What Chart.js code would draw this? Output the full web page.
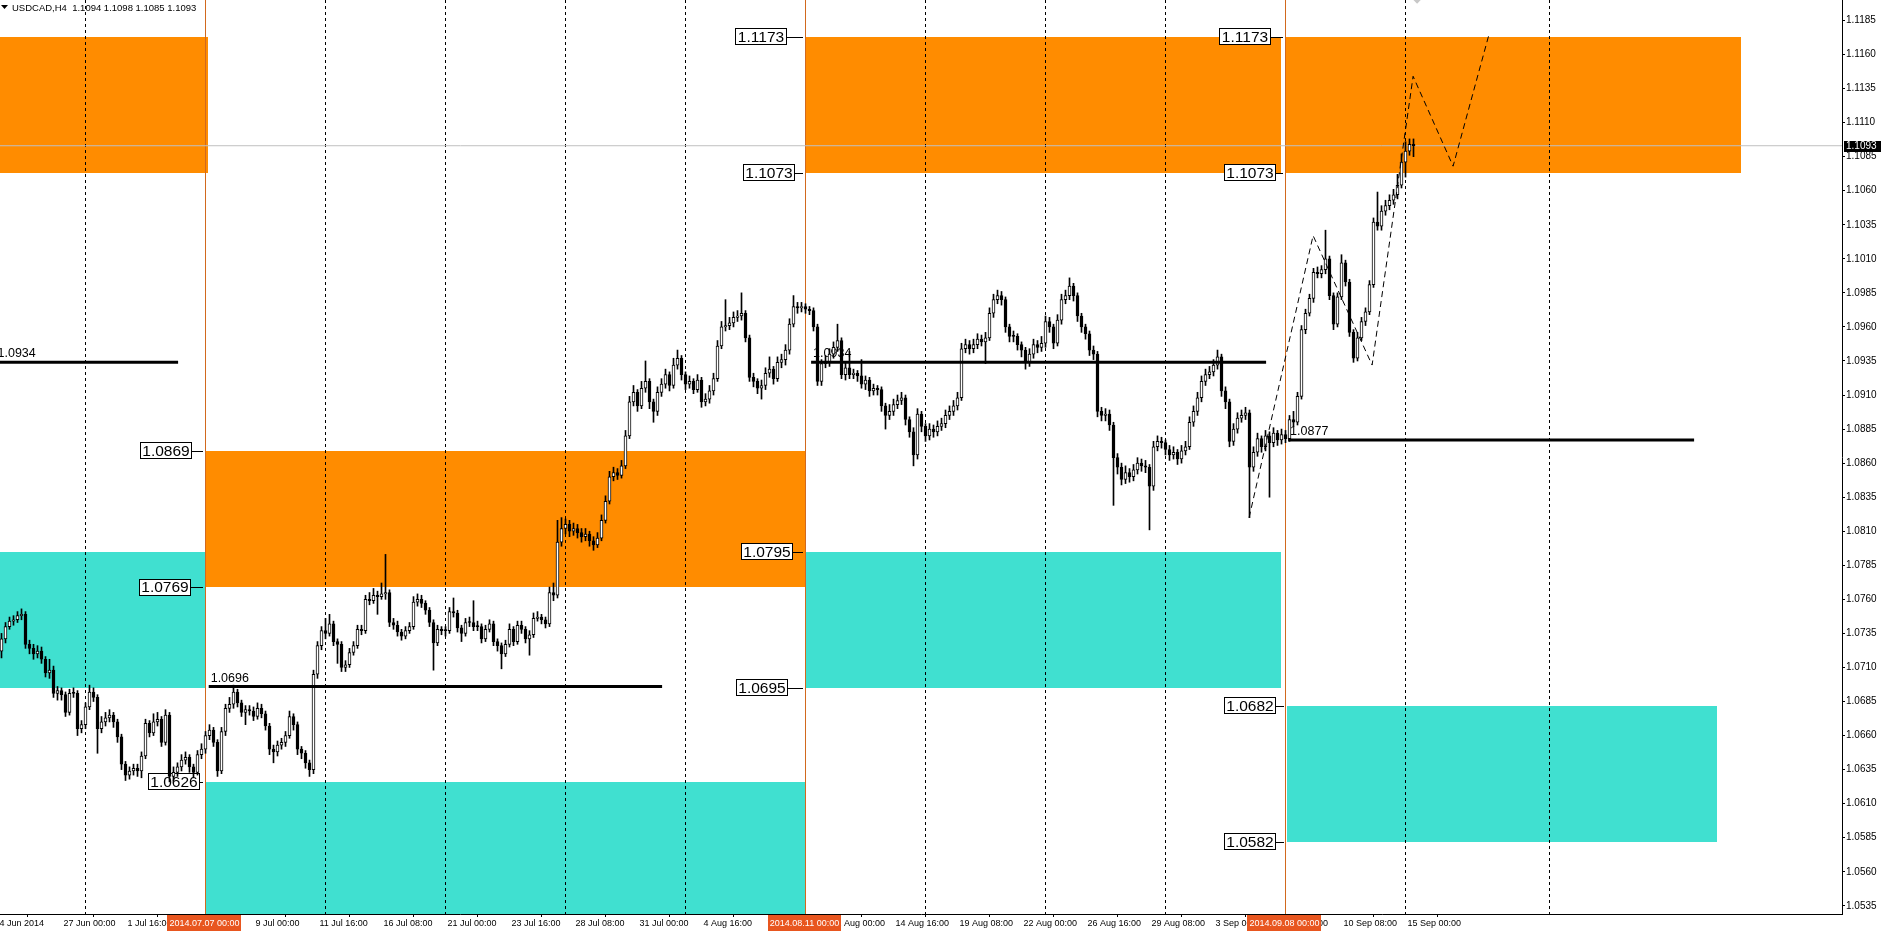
<!DOCTYPE html>
<html><head><meta charset="utf-8">
<script src="https://cdn.jsdelivr.net/npm/chart.js@4/dist/chart.umd.min.js"></script>
<style>html,body{margin:0;padding:0;background:#fff;overflow:hidden}#wrap{width:1884px;height:932px;position:relative}canvas{display:block}</style>
</head><body><div id="wrap"><canvas id="c" width="1884" height="932"></canvas></div>
<script>
// ---------------- DATA ----------------
const symbolTitle = 'USDCAD,H4  1.1094 1.1098 1.1085 1.1093';

// H4 candles, bar index 0 = 24 Jun 2014 12:00 ... 353 = 15 Sep 2014 08:00
const opens = [
1.0722,1.0731,1.0740,1.0744,1.0745,1.0748,1.0749,1.0727,1.0724,1.0720,
1.0722,1.0716,1.0706,1.0708,1.0691,1.0693,1.0690,1.0677,1.0691,1.0691,
1.0665,1.0668,1.0681,1.0692,1.0688,1.0665,1.0670,1.0673,1.0675,1.0670,
1.0659,1.0639,1.0631,1.0634,1.0636,1.0634,1.0645,1.0669,1.0662,1.0670,
1.0672,1.0655,1.0675,1.0630,1.0633,1.0637,1.0642,1.0644,1.0637,1.0633,
1.0646,1.0650,1.0660,1.0664,1.0655,1.0634,1.0663,1.0680,1.0683,1.0692,
1.0684,1.0677,1.0679,1.0678,1.0674,1.0680,1.0676,1.0667,1.0650,1.0648,
1.0653,1.0655,1.0660,1.0674,1.0668,1.0650,1.0647,1.0640,1.0635,1.0705,
1.0726,1.0737,1.0735,1.0742,1.0729,1.0727,1.0710,1.0712,1.0721,1.0726,
1.0738,1.0737,1.0760,1.0759,1.0763,1.0762,1.0764,1.0765,1.0743,1.0741,
1.0736,1.0733,1.0737,1.0740,1.0758,1.0760,1.0757,1.0752,1.0743,1.0728,
1.0738,1.0737,1.0737,1.0751,1.0750,1.0739,1.0735,1.0743,1.0743,1.0740,
1.0740,1.0731,1.0738,1.0742,1.0729,1.0726,1.0720,1.0727,1.0738,1.0729,
1.0741,1.0738,1.0731,1.0734,1.0746,1.0747,1.0745,1.0742,1.0765,1.0763,
1.0802,1.0812,1.0815,1.0810,1.0812,1.0809,1.0806,1.0808,1.0803,1.0800,
1.0805,1.0818,1.0832,1.0850,1.0853,1.0851,1.0858,1.0880,1.0905,1.0912,
1.0902,1.0915,1.0920,1.0905,1.0898,1.0912,1.0918,1.0925,1.0917,1.0932,
1.0937,1.0925,1.0918,1.0920,1.0914,1.0921,1.0905,1.0907,1.0913,1.0922,
1.0946,1.0960,1.0961,1.0963,1.0967,1.0968,1.0970,1.0952,1.0923,1.0920,
1.0915,1.0917,1.0926,1.0929,1.0922,1.0934,1.0936,1.0943,1.0962,1.0975,
1.0974,1.0975,1.0973,1.0972,1.0960,1.0920,1.0933,1.0934,1.0940,1.0945,
1.0950,1.0925,1.0930,1.0925,1.0926,1.0924,1.0918,1.0921,1.0913,1.0915,
1.0914,1.0902,1.0895,1.0898,1.0903,1.0906,1.0908,1.0892,1.0883,1.0866,
1.0896,1.0887,1.0880,1.0885,1.0883,1.0887,1.0889,1.0895,1.0898,1.0902,
1.0908,1.0944,1.0947,1.0944,1.0947,1.0951,1.0949,1.0952,1.0970,1.0980,
1.0983,1.0980,1.0960,1.0953,1.0953,1.0947,1.0943,1.0934,1.0940,1.0947,
1.0945,1.0948,1.0964,1.0960,1.0948,1.0965,1.0980,1.0983,1.0990,1.0983,
1.0968,1.0960,1.0955,1.0943,1.0940,1.0898,1.0895,1.0896,1.0888,1.0864,
1.0857,1.0848,1.0853,1.0850,1.0855,1.0860,1.0858,1.0857,1.0843,1.0872,
1.0876,1.0875,1.0870,1.0866,1.0868,1.0863,1.0869,1.0872,1.0890,1.0898,
1.0908,1.0920,1.0925,1.0927,1.0932,1.0938,1.0913,1.0905,1.0876,1.0885,
1.0893,1.0895,1.0897,1.0857,1.0868,1.0878,1.0872,1.0880,1.0875,1.0882,
1.0877,1.0881,1.0878,1.0892,1.0890,1.0909,1.0958,1.0970,1.0981,1.1000,
1.0999,1.1002,1.1010,1.0983,1.0962,1.0982,1.1007,1.0993,1.0956,1.0937,
1.0952,1.0964,1.0971,1.0991,1.1037,1.1034,1.1045,1.1049,1.1053,1.1057,
1.1064,1.1081,1.1089,1.1094];
const highs = [
1.0735,1.0743,1.0747,1.0748,1.0751,1.0753,1.0751,1.0730,1.0727,1.0726,
1.0725,1.0718,1.0716,1.0711,1.0696,1.0695,1.0692,1.0694,1.0695,1.0693,
1.0671,1.0684,1.0697,1.0695,1.0690,1.0674,1.0677,1.0679,1.0677,1.0672,
1.0661,1.0641,1.0637,1.0639,1.0639,1.0648,1.0672,1.0671,1.0676,1.0677,
1.0674,1.0679,1.0677,1.0637,1.0640,1.0646,1.0648,1.0646,1.0639,1.0649,
1.0654,1.0663,1.0668,1.0666,1.0657,1.0666,1.0683,1.0688,1.0697,1.0694,
1.0686,1.0682,1.0682,1.0681,1.0684,1.0683,1.0678,1.0669,1.0653,1.0656,
1.0658,1.0663,1.0678,1.0676,1.0670,1.0652,1.0649,1.0642,1.0708,1.0729,
1.0740,1.0746,1.0749,1.0744,1.0731,1.0729,1.0715,1.0724,1.0729,1.0741,
1.0741,1.0763,1.0765,1.0768,1.0766,1.0772,1.0793,1.0767,1.0746,1.0744,
1.0738,1.0740,1.0743,1.0762,1.0764,1.0763,1.0759,1.0754,1.0745,1.0741,
1.0740,1.0740,1.0754,1.0761,1.0752,1.0741,1.0746,1.0747,1.0759,1.0744,
1.0742,1.0741,1.0745,1.0744,1.0731,1.0728,1.0730,1.0742,1.0740,1.0744,
1.0744,1.0740,1.0737,1.0750,1.0751,1.0749,1.0747,1.0769,1.0772,1.0818,
1.0820,1.0819,1.0818,1.0816,1.0815,1.0812,1.0812,1.0810,1.0806,1.0809,
1.0822,1.0836,1.0854,1.0857,1.0856,1.0862,1.0884,1.0909,1.0917,1.0914,
1.0920,1.0935,1.0922,1.0907,1.0916,1.0922,1.0929,1.0927,1.0937,1.0943,
1.0939,1.0927,1.0924,1.0922,1.0925,1.0923,1.0911,1.0917,1.0926,1.0950,
1.0964,1.0980,1.0967,1.0971,1.0972,1.0985,1.0972,1.0954,1.0926,1.0922,
1.0921,1.0930,1.0938,1.0931,1.0938,1.0940,1.0947,1.0966,1.0983,1.0978,
1.0978,1.0977,1.0975,1.0974,1.0962,1.0936,1.0939,1.0944,1.0949,1.0962,
1.0952,1.0934,1.0942,1.0929,1.0928,1.0936,1.0924,1.0923,1.0918,1.0917,
1.0916,1.0904,1.0903,1.0907,1.0910,1.0912,1.0910,1.0894,1.0886,1.0900,
1.0898,1.0889,1.0889,1.0888,1.0891,1.0893,1.0899,1.0902,1.0906,1.0912,
1.0948,1.0951,1.0950,1.0951,1.0955,1.0954,1.0956,1.0974,1.0984,1.0987,
1.0986,1.0982,1.0962,1.0957,1.0955,1.0949,1.0945,1.0944,1.0951,1.0950,
1.0953,1.0968,1.0967,1.0962,1.0969,1.0984,1.0987,1.0996,1.0992,1.0985,
1.0970,1.0962,1.0957,1.0946,1.0942,1.0901,1.0900,1.0899,1.0890,1.0867,
1.0860,1.0858,1.0856,1.0859,1.0864,1.0863,1.0862,1.0859,1.0876,1.0880,
1.0879,1.0877,1.0873,1.0872,1.0870,1.0873,1.0876,1.0894,1.0902,1.0912,
1.0924,1.0929,1.0931,1.0936,1.0943,1.0940,1.0916,1.0907,1.0889,1.0897,
1.0899,1.0901,1.0899,1.0872,1.0882,1.0880,1.0884,1.0883,1.0886,1.0884,
1.0885,1.0884,1.0895,1.0898,1.0912,1.0961,1.0973,1.0984,1.1003,1.1004,
1.1005,1.1031,1.1012,1.0985,1.0985,1.1013,1.1009,1.0995,1.0958,1.0956,
1.0967,1.0974,1.0994,1.1040,1.1059,1.1049,1.1053,1.1057,1.1061,1.1072,
1.1087,1.1096,1.1098,1.1098];
const lows = [
1.0717,1.0728,1.0738,1.0741,1.0743,1.0745,1.0724,1.0720,1.0716,1.0717,
1.0713,1.0703,1.0702,1.0688,1.0686,1.0686,1.0674,1.0675,1.0688,1.0660,
1.0662,1.0665,1.0679,1.0685,1.0647,1.0662,1.0667,1.0670,1.0666,1.0655,
1.0635,1.0627,1.0628,1.0631,1.0630,1.0629,1.0643,1.0659,1.0660,1.0667,
1.0652,1.0653,1.0626,1.0627,1.0630,1.0634,1.0639,1.0633,1.0629,1.0631,
1.0643,1.0647,1.0657,1.0652,1.0630,1.0632,1.0660,1.0677,1.0680,1.0681,
1.0674,1.0668,1.0675,1.0671,1.0672,1.0673,1.0664,1.0646,1.0640,1.0645,
1.0650,1.0652,1.0658,1.0664,1.0646,1.0643,1.0636,1.0630,1.0632,1.0702,
1.0723,1.0731,1.0733,1.0726,1.0713,1.0707,1.0707,1.0710,1.0719,1.0724,
1.0734,1.0735,1.0756,1.0757,1.0749,1.0760,1.0760,1.0740,1.0738,1.0733,
1.0730,1.0731,1.0735,1.0738,1.0755,1.0754,1.0749,1.0740,1.0708,1.0726,
1.0734,1.0733,1.0735,1.0747,1.0736,1.0729,1.0733,1.0740,1.0737,1.0737,
1.0728,1.0729,1.0736,1.0726,1.0722,1.0709,1.0718,1.0725,1.0726,1.0727,
1.0735,1.0728,1.0719,1.0732,1.0744,1.0742,1.0739,1.0740,1.0759,1.0761,
1.0799,1.0808,1.0806,1.0807,1.0805,1.0802,1.0803,1.0799,1.0796,1.0798,
1.0803,1.0816,1.0830,1.0847,1.0848,1.0849,1.0856,1.0878,1.0902,1.0898,
1.0900,1.0912,1.0900,1.0890,1.0895,1.0909,1.0915,1.0913,1.0915,1.0929,
1.0921,1.0914,1.0915,1.0911,1.0912,1.0901,1.0902,1.0904,1.0910,1.0920,
1.0944,1.0957,1.0958,1.0960,1.0964,1.0965,1.0949,1.0920,1.0916,1.0911,
1.0907,1.0914,1.0923,1.0918,1.0920,1.0930,1.0932,1.0940,1.0960,1.0970,
1.0971,1.0970,1.0969,1.0957,1.0917,1.0917,1.0930,1.0931,1.0937,1.0942,
1.0922,1.0921,1.0922,1.0922,1.0920,1.0915,1.0914,1.0909,1.0910,1.0910,
1.0898,1.0885,1.0892,1.0895,1.0900,1.0903,1.0888,1.0879,1.0858,1.0863,
1.0883,1.0876,1.0877,1.0879,1.0880,1.0884,1.0886,1.0892,1.0895,1.0899,
1.0906,1.0941,1.0940,1.0941,1.0944,1.0946,1.0933,1.0950,1.0967,1.0977,
1.0976,1.0956,1.0949,1.0949,1.0943,1.0938,1.0929,1.0931,1.0937,1.0941,
1.0942,1.0945,1.0956,1.0944,1.0946,1.0962,1.0977,1.0980,1.0979,1.0964,
1.0956,1.0951,1.0939,1.0936,1.0894,1.0891,1.0891,1.0884,1.0829,1.0852,
1.0844,1.0845,1.0846,1.0847,1.0852,1.0854,1.0853,1.0811,1.0840,1.0869,
1.0871,1.0866,1.0862,1.0863,1.0859,1.0860,1.0866,1.0870,1.0887,1.0895,
1.0905,1.0917,1.0922,1.0924,1.0929,1.0909,1.0900,1.0872,1.0873,1.0882,
1.0890,1.0892,1.0820,1.0854,1.0865,1.0868,1.0869,1.0835,1.0872,1.0873,
1.0874,1.0875,1.0876,1.0887,1.0888,1.0907,1.0955,1.0968,1.0978,1.0996,
1.0996,1.0999,1.0980,1.0958,1.0960,1.0980,1.0990,1.0953,1.0934,1.0935,
1.0950,1.0961,1.0969,1.0989,1.1031,1.1031,1.1042,1.1046,1.1050,1.1054,
1.1062,1.1070,1.1086,1.1085];
const closes = [
1.0731,1.0740,1.0744,1.0745,1.0748,1.0749,1.0727,1.0724,1.0720,1.0722,
1.0716,1.0706,1.0708,1.0691,1.0693,1.0690,1.0677,1.0691,1.0691,1.0665,
1.0668,1.0681,1.0692,1.0688,1.0665,1.0670,1.0673,1.0675,1.0670,1.0659,
1.0639,1.0631,1.0634,1.0636,1.0634,1.0645,1.0669,1.0662,1.0670,1.0672,
1.0655,1.0675,1.0630,1.0633,1.0637,1.0642,1.0644,1.0637,1.0633,1.0646,
1.0650,1.0660,1.0664,1.0655,1.0634,1.0663,1.0680,1.0683,1.0692,1.0684,
1.0677,1.0679,1.0678,1.0674,1.0680,1.0676,1.0667,1.0650,1.0648,1.0653,
1.0655,1.0660,1.0674,1.0668,1.0650,1.0647,1.0640,1.0635,1.0705,1.0726,
1.0737,1.0735,1.0742,1.0729,1.0727,1.0710,1.0712,1.0721,1.0726,1.0738,
1.0737,1.0760,1.0759,1.0763,1.0762,1.0764,1.0765,1.0743,1.0741,1.0736,
1.0733,1.0737,1.0740,1.0758,1.0760,1.0757,1.0752,1.0743,1.0728,1.0738,
1.0737,1.0737,1.0751,1.0750,1.0739,1.0735,1.0743,1.0743,1.0740,1.0740,
1.0731,1.0738,1.0742,1.0729,1.0726,1.0720,1.0727,1.0738,1.0729,1.0741,
1.0738,1.0731,1.0734,1.0746,1.0747,1.0745,1.0742,1.0765,1.0763,1.0802,
1.0812,1.0815,1.0810,1.0812,1.0809,1.0806,1.0808,1.0803,1.0800,1.0805,
1.0818,1.0832,1.0850,1.0853,1.0851,1.0858,1.0880,1.0905,1.0912,1.0902,
1.0915,1.0920,1.0905,1.0898,1.0912,1.0918,1.0925,1.0917,1.0932,1.0937,
1.0925,1.0918,1.0920,1.0914,1.0921,1.0905,1.0907,1.0913,1.0922,1.0946,
1.0960,1.0961,1.0963,1.0967,1.0968,1.0970,1.0952,1.0923,1.0920,1.0915,
1.0917,1.0926,1.0929,1.0922,1.0934,1.0936,1.0943,1.0962,1.0975,1.0974,
1.0975,1.0973,1.0972,1.0960,1.0920,1.0933,1.0934,1.0940,1.0945,1.0950,
1.0925,1.0930,1.0925,1.0926,1.0924,1.0918,1.0921,1.0913,1.0915,1.0914,
1.0902,1.0895,1.0898,1.0903,1.0906,1.0908,1.0892,1.0883,1.0866,1.0896,
1.0887,1.0880,1.0885,1.0883,1.0887,1.0889,1.0895,1.0898,1.0902,1.0908,
1.0944,1.0947,1.0944,1.0947,1.0951,1.0949,1.0952,1.0970,1.0980,1.0983,
1.0980,1.0960,1.0953,1.0953,1.0947,1.0943,1.0934,1.0940,1.0947,1.0945,
1.0948,1.0964,1.0960,1.0948,1.0965,1.0980,1.0983,1.0990,1.0983,1.0968,
1.0960,1.0955,1.0943,1.0940,1.0898,1.0895,1.0896,1.0888,1.0864,1.0857,
1.0848,1.0853,1.0850,1.0855,1.0860,1.0858,1.0857,1.0843,1.0872,1.0876,
1.0875,1.0870,1.0866,1.0868,1.0863,1.0869,1.0872,1.0890,1.0898,1.0908,
1.0920,1.0925,1.0927,1.0932,1.0938,1.0913,1.0905,1.0876,1.0885,1.0893,
1.0895,1.0897,1.0857,1.0868,1.0878,1.0872,1.0880,1.0875,1.0882,1.0877,
1.0881,1.0878,1.0892,1.0890,1.0909,1.0958,1.0970,1.0981,1.1000,1.0999,
1.1002,1.1010,1.0983,1.0962,1.0982,1.1007,1.0993,1.0956,1.0937,1.0952,
1.0964,1.0971,1.0991,1.1037,1.1034,1.1045,1.1049,1.1053,1.1057,1.1064,
1.1081,1.1089,1.1094,1.1093];

// supply (orange) / demand (turquoise) zones, in bar index and price
const zoneStart = [-2, -2, 51, 51, 201, 201, 321.15, 321.4];
const zoneEnd   = [51.65, 51, 201, 201, 319.8, 319.8, 434.9, 428.9];
const zoneHigh  = [1.1173, 1.0795, 1.0869, 1.0626, 1.1173, 1.0795, 1.1173, 1.0682];
const zoneLow   = [1.1073, 1.0695, 1.0769, 1.0500, 1.1073, 1.0695, 1.1073, 1.0582];
const zoneKind  = ['supply','demand','supply','demand','supply','demand','supply','demand'];
// bar index where each zone's price label ends (null = no label)
const zoneTopLabelAt = [null, null, 47.55, 49.5, 196.4, 197.9, 317.4, 318.6];
const zoneLowLabelAt = [null, null, 47.4, null, 198.4, 196.6, 318.6, 318.6];

// horizontal pivot levels
const levelPrice = [1.0934, 1.0696, 1.0934, 1.0877];
const levelStart = [-2, 51.8, 202.4, 321.65];
const levelEnd   = [44.15, 165.15, 316.15, 423.15];

// dashed forecast zigzag
const zigX = [311.9, 327.9, 342.65, 352.9, 362.9, 371.9];
const zigY = [1.0820, 1.1027, 1.0932, 1.1144, 1.1078, 1.1175];

// weekly grid and period separators
const gridIdx = [21, 81, 111, 141, 171, 231, 261, 291, 351, 387];
const sepIdx = [51, 201, 321];
const sepLabels = ['2014.07.07 00:00', '2014.08.11 00:00', '2014.09.08 00:00'];

// axis tick labels
const xTickIdx = [-2.25, 15, 31, 47, 63, 79, 95, 111, 127, 143, 159, 175, 191, 207, 223, 239, 255, 271, 287, 303, 319, 335, 351];
const xTickLabels = ['24 Jun 2014','27 Jun 00:00','1 Jul 16:00','4 Jul 08:00','9 Jul 00:00','11 Jul 16:00','16 Jul 08:00','21 Jul 00:00','23 Jul 16:00','28 Jul 08:00','31 Jul 00:00','4 Aug 16:00','7 Aug 08:00','12 Aug 00:00','14 Aug 16:00','19 Aug 08:00','22 Aug 00:00','26 Aug 16:00','29 Aug 08:00','3 Sep 00:00','5 Sep 16:00','10 Sep 08:00','15 Sep 00:00'];
const yTickLabels = ['1.0535','1.0560','1.0585','1.0610','1.0635','1.0660','1.0685','1.0710','1.0735','1.0760','1.0785','1.0810','1.0835','1.0860','1.0885','1.0910','1.0935','1.0960','1.0985','1.1010','1.1035','1.1060','1.1085','1.1110','1.1135','1.1160','1.1185'];

// ---------------- CHART ----------------
const FONT = '"Liberation Sans", Arial, sans-serif';
Chart.defaults.font.family = FONT;
const lastIdx = closes.length - 1;
const bidPrice = closes[lastIdx];
const X_MIN = -0.375, X_MAX = 460.125;

const bodies = closes.map((c, i) => ({x: i, y: [opens[i], c]}));
const wicks = highs.map((h, i) => ({x: i, y: [lows[i], h]}));
const bodyColors = closes.map((c, i) => c > opens[i] ? '#ffffff' : '#000000');

const levelSets = levelPrice.map((p, k) => ({
  type: 'line', data: [{x: levelStart[k], y: p}, {x: levelEnd[k], y: p}],
  borderColor: '#000', borderWidth: 3, pointRadius: 0, borderCapStyle: 'butt', order: -2
}));

function priceBox(ctx, x, y, right, zoneX, p) {
  const py = y.getPixelForValue(p);
  const r = Math.round(x.getPixelForValue(right)), w = 52, h = 17, t = Math.round(py - h / 2);
  ctx.fillStyle = '#fff'; ctx.fillRect(r - w, t, w, h);
  ctx.strokeStyle = '#000'; ctx.lineWidth = 1; ctx.strokeRect(r - w + 0.5, t + 0.5, w - 1, h - 1);
  ctx.beginPath(); ctx.moveTo(r, Math.round(py) + 0.5); ctx.lineTo(Math.round(zoneX) - 3, Math.round(py) + 0.5); ctx.stroke();
  ctx.fillStyle = '#000'; ctx.fillText(p.toFixed(4), r - w / 2, py + 1);
}

const overlay = {
  id: 'overlay',
  beforeDatasetsDraw(chart) {
    const {ctx, chartArea: a, scales: {x, y}} = chart;
    ctx.save();
    ctx.beginPath(); ctx.rect(a.left, a.top, a.right - a.left, a.bottom - a.top); ctx.clip();
    for (let k = 0; k < zoneStart.length; k++) {
      const x0 = Math.round(x.getPixelForValue(zoneStart[k])), x1 = Math.round(x.getPixelForValue(zoneEnd[k]));
      const y0 = Math.round(y.getPixelForValue(zoneHigh[k])), y1 = Math.round(y.getPixelForValue(zoneLow[k]));
      ctx.fillStyle = zoneKind[k] === 'supply' ? '#FF8C00' : '#40E0D0';
      ctx.fillRect(x0, y0, x1 - x0, y1 - y0);
    }
    ctx.strokeStyle = '#000'; ctx.lineWidth = 1; ctx.setLineDash([3, 3]);
    for (const g of gridIdx) {
      const px = Math.round(x.getPixelForValue(g) - 1) + 0.5;
      ctx.beginPath(); ctx.moveTo(px, a.top); ctx.lineTo(px, a.bottom); ctx.stroke();
    }
    ctx.setLineDash([]);
    ctx.strokeStyle = '#D2691E';
    for (const s of sepIdx) {
      const px = Math.round(x.getPixelForValue(s) - 1) + 0.5;
      ctx.beginPath(); ctx.moveTo(px, a.top); ctx.lineTo(px, a.bottom); ctx.stroke();
    }
    // level labels
    ctx.fillStyle = '#000'; ctx.font = '12.5px ' + FONT; ctx.textAlign = 'left'; ctx.textBaseline = 'alphabetic';
    levelPrice.forEach((p, k) => ctx.fillText(p.toFixed(4), Math.max(x.getPixelForValue(levelStart[k]) + 2, -2.5), y.getPixelForValue(p) - 5));
    // zone price boxes
    ctx.font = '15.5px ' + FONT; ctx.textAlign = 'center'; ctx.textBaseline = 'middle';
    for (let k = 0; k < zoneStart.length; k++) {
      const zx = x.getPixelForValue(zoneStart[k]);
      if (zoneTopLabelAt[k] !== null) priceBox(ctx, x, y, zoneTopLabelAt[k], zx, zoneHigh[k]);
      if (zoneLowLabelAt[k] !== null) priceBox(ctx, x, y, zoneLowLabelAt[k], zx, zoneLow[k]);
    }
    ctx.restore();
  },
  afterDraw(chart) {
    const {ctx, chartArea: a, scales: {x, y}} = chart;
    ctx.save();
    // header
    ctx.fillStyle = '#000';
    ctx.beginPath(); ctx.moveTo(1, 5); ctx.lineTo(8, 5); ctx.lineTo(4.5, 9); ctx.closePath(); ctx.fill();
    ctx.font = '9.5px ' + FONT; ctx.textAlign = 'left'; ctx.textBaseline = 'alphabetic';
    ctx.fillText(symbolTitle, 12, 11);
    // bid tag
    const by = y.getPixelForValue(bidPrice);
    ctx.fillStyle = '#000'; ctx.fillRect(a.right + 2, Math.round(by) - 5, 37, 11);
    ctx.fillStyle = '#fff'; ctx.font = '10px ' + FONT; ctx.textBaseline = 'middle';
    ctx.fillText(bidPrice.toFixed(4), a.right + 4, Math.round(by) + 0.5);
    // separator labels
    ctx.font = '9px ' + FONT; ctx.textAlign = 'center';
    sepIdx.forEach((s, k) => {
      const px = x.getPixelForValue(s) - 1;
      const w = ctx.measureText(sepLabels[k]).width + 4;
      ctx.fillStyle = '#E8561F'; ctx.fillRect(Math.round(px - w / 2), a.bottom + 1, Math.round(w), 16);
      ctx.fillStyle = '#fff'; ctx.fillText(sepLabels[k], px, a.bottom + 9.5);
    });
    ctx.restore();
  }
};

new Chart(document.getElementById('c'), {
  type: 'bar',
  data: {
    datasets: [
      {type: 'line', data: zigX.map((v, i) => ({x: v, y: zigY[i]})), borderColor: '#000', borderWidth: 1,
       borderDash: [6, 4], pointRadius: 0, tension: 0, order: -3},
      ...levelSets,
      {type: 'bar', data: bodies, backgroundColor: bodyColors, borderColor: '#000', borderWidth: 1,
       borderSkipped: false, barThickness: 3, grouped: false, minBarLength: 1, order: 0},
      {type: 'bar', data: wicks, backgroundColor: '#000', borderWidth: 0, barThickness: 1,
       grouped: false, minBarLength: 1, order: 1},
      {type: 'scatter', data: [{x: lastIdx + 0.9, y: 1.1201}], pointStyle: 'rectRot', pointRadius: 5,
       backgroundColor: '#C8C8C8', borderWidth: 0, order: 4},
      {type: 'line', data: [{x: X_MIN, y: bidPrice}, {x: X_MAX, y: bidPrice}], borderColor: '#C0C0C0',
       borderWidth: 1, pointRadius: 0, order: 5}
    ]
  },
  options: {
    responsive: false, animation: false, devicePixelRatio: 1, events: [],
    layout: {padding: 0, autoPadding: false},
    plugins: {legend: {display: false}, tooltip: {enabled: false}},
    scales: {
      x: {
        type: 'linear', min: X_MIN, max: X_MAX, offset: false, bounds: 'data',
        afterBuildTicks: s => { s.ticks = xTickIdx.map(v => ({value: v})); },
        afterFit: s => { s.height = 18; s.paddingLeft = 0; s.paddingRight = 0; },
        ticks: {autoSkip: false, maxRotation: 0, minRotation: 0, align: 'start', labelOffset: 2, padding: 1,
                color: '#000', font: {size: 9}, callback: (v, i) => xTickLabels[i]},
        grid: {drawOnChartArea: false, tickLength: 3, color: '#000'},
        border: {color: '#000'}
      },
      y: {
        type: 'linear', position: 'right', min: 1.0529, max: 1.1200, bounds: 'data',
        afterBuildTicks: s => { s.ticks = yTickLabels.map(t => ({value: parseFloat(t)})); },
        afterFit: s => { s.width = 42; s.paddingTop = 0; s.paddingBottom = 0; },
        ticks: {autoSkip: false, padding: 1, color: '#000', font: {size: 10}, callback: (v, i) => yTickLabels[i]},
        grid: {drawOnChartArea: false, tickLength: 3, color: '#000'},
        border: {color: '#000'}
      }
    }
  },
  plugins: [overlay]
});
</script>
</body></html>
